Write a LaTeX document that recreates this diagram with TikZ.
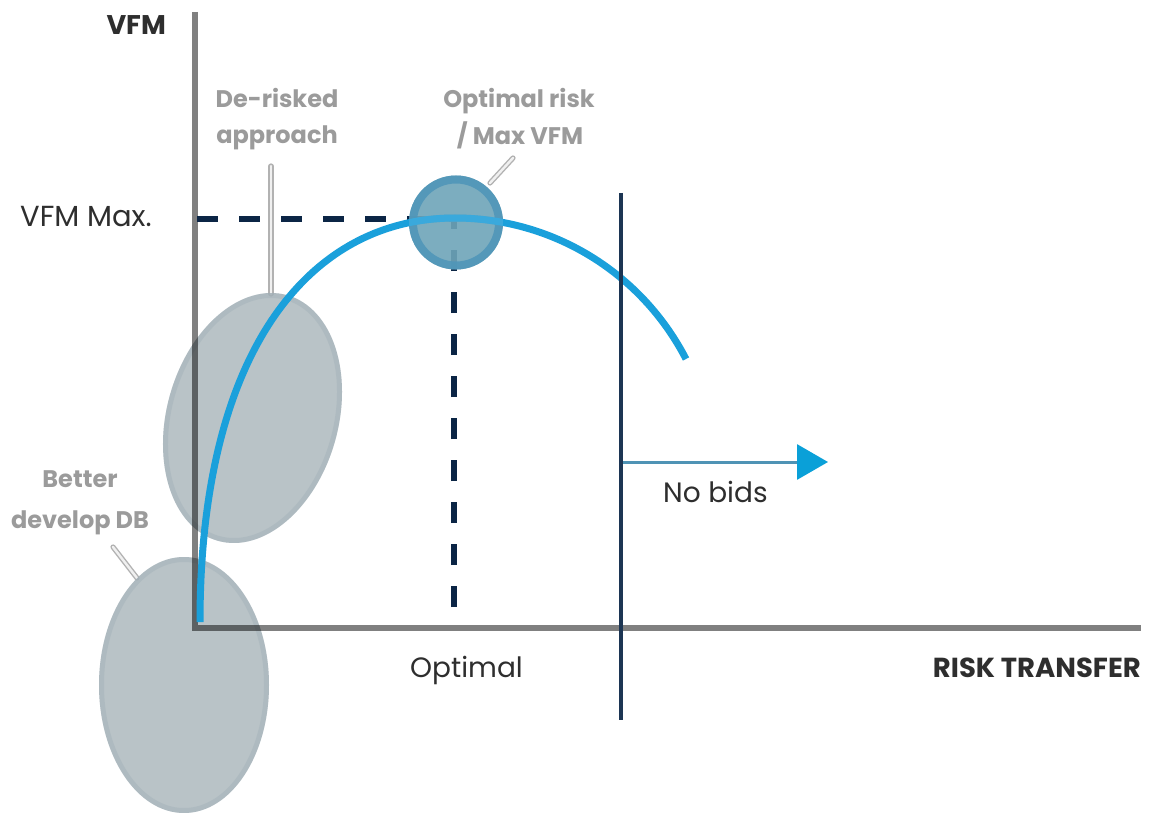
\documentclass[tikz,border=0pt]{standalone}
\usepackage{fontspec}
\setmainfont{Poppins}
\usetikzlibrary{arrows.meta}
\definecolor{axisgray}{HTML}{808080}
\definecolor{dashnavy}{HTML}{0B2545}
\definecolor{limitnavy}{HTML}{1C3553}
\definecolor{arrowline}{HTML}{4F93B5}
\definecolor{arrowhead}{HTML}{0AA0D8}
\definecolor{curveblue}{HTML}{1AA0DB}
\definecolor{curvelight}{HTML}{3AA9DC}
\definecolor{darktext}{HTML}{2E2E2E}
\definecolor{notegray}{HTML}{9B9B9B}
\definecolor{pointergray}{HTML}{B2B2B2}
\definecolor{blobgray}{HTML}{A8B4BA}
\definecolor{blobedge}{HTML}{97A8B1}
\definecolor{spotfill}{HTML}{6EA5B9}
\definecolor{spotring}{HTML}{5096B9}
\begin{document}
\begin{tikzpicture}[x=1pt,y=-1pt,
  txt/.style={inner sep=0pt, text=darktext},
  note/.style={inner sep=0pt, text=notegray, anchor=base,
    font=\bfseries\fontsize{24}{28}\selectfont},
  pointer/.style={draw=pointergray, line width=1.4pt, double=white!94!black,
    double distance=2.4pt, line cap=round},
  blob/.style={fill=blobgray, fill opacity=0.8},
  blobring/.style={draw=blobedge, draw opacity=0.3, line width=5pt},
  axis/.style={draw=axisgray, line width=6pt, line join=miter},
  guide/.style={draw=dashnavy, line width=6.5pt, dash pattern=on 21pt off 21pt},
  curve/.style={line width=7pt}]
\clip (0,0) rectangle (1151,813);
\fill[white] (0,0) rectangle (1151,813);

% pointer lines from the notes to their shapes
\coordinate (derisk-foot) at (271,166);
\coordinate (derisk-tip) at (271,294);
\coordinate (better-foot) at (113,547);
\coordinate (better-tip) at (137,578);
\coordinate (optimum-foot) at (513,158);
\coordinate (optimum-tip) at (490,183);
\draw[pointer] (derisk-foot) -- (derisk-tip);
\draw[pointer] (better-foot) -- (better-tip);
\draw[pointer] (optimum-foot) -- (optimum-tip);

% translucent zones
\fill[blob] (184,685) ellipse [x radius=85pt, y radius=128pt];
\draw[blobring] (184,685) ellipse [x radius=82.5pt, y radius=125.5pt];
\begin{scope}[rotate around={-15.8:(252.5,418)}]
  \fill[blob] (252.5,418) ellipse [x radius=85.7pt, y radius=127.6pt];
  \draw[blobring] (252.5,418) ellipse [x radius=83.2pt, y radius=125.1pt];
\end{scope}

% axes
\coordinate (ytop) at (195,12);
\coordinate (origin) at (195,628);
\coordinate (xend) at (1141,628);
\begin{scope}[blend mode=multiply]
  \draw[axis] (ytop) -- (origin) -- (xend);
\end{scope}

% guides to the optimum
\coordinate (gy) at (197,219);
\coordinate (gc) at (454,219);
\coordinate (gx) at (454,607);
\draw[guide] (gy) -- (gc);
\draw[guide] (gx) -- (gc);

% value curve
\coordinate (start) at (200,622);
\coordinate (peak) at (455,218);
\coordinate (finish) at (686,359);
\draw[curve, draw=curveblue] (start) .. controls (200,350) and (310,218) .. (peak)
  .. controls (552,218) and (641,272) .. (finish);

% optimum marker, with the curve showing through it
\coordinate (spot) at (456,222.5);
\fill[spotfill, fill opacity=0.9] (spot) circle [radius=47pt];
\draw[spotring, draw opacity=0.9, line width=8pt] (spot) circle [radius=43pt];
\begin{scope}
  \clip (spot) circle [radius=47pt];
  \draw[curve, draw=curvelight] (start) .. controls (200,350) and (310,218) .. (peak)
    .. controls (552,218) and (641,272) .. (finish);
\end{scope}

% limit of bids
\coordinate (limtop) at (621,193);
\coordinate (limbot) at (621,720);
\draw[limitnavy, line width=3.5pt] (limtop) -- (limbot);
\coordinate (nb0) at (623,462);
\coordinate (nb1) at (828,462);
\draw[arrowline, line width=3pt,
  -{Triangle[length=31pt, width=35pt, color=arrowhead]}] (nb0) -- (nb1);

% labels
\node[txt, anchor=base east, font=\bfseries\fontsize{27}{32}\selectfont] (vfm) at (166,35) {VFM};
\node[txt, anchor=base west, font=\fontsize{29}{34}\selectfont] (vfmmax) at (20,226) {VFM Max.};
\node[txt, anchor=base west, font=\fontsize{28}{33}\selectfont] (nobids) at (663,502) {No bids};
\node[txt, anchor=base west, font=\fontsize{28}{33}\selectfont] (optimal) at (410,677) {Optimal};
\node[txt, anchor=base east, font=\bfseries\fontsize{27.5}{32}\selectfont] (risk) at (1141,677) {RISK TRANSFER};
\node[note] (derisk1) at (277,108) {De-risked};
\node[note] (derisk2) at (277,144) {approach};
\node[note] (optimum1) at (519,108) {Optimal risk};
\node[note] (optimum2) at (520,145) {/ Max VFM};
\node[note] (better1) at (80,487) {Better};
\node[note] (better2) at (80,528) {develop DB};
\end{tikzpicture}
\end{document}
